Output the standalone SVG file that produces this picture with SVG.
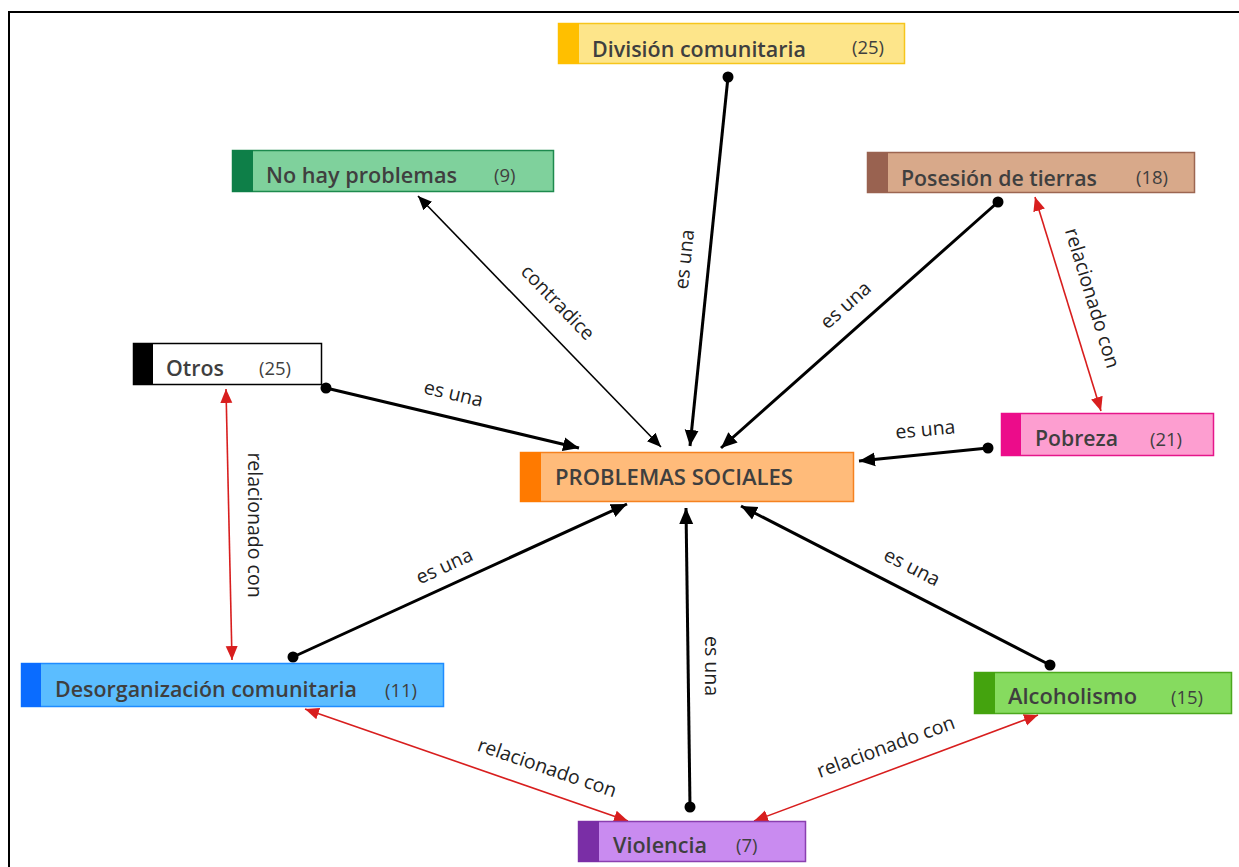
<svg xmlns="http://www.w3.org/2000/svg" width="1239" height="867" viewBox="0 0 1239 867">
<style>
.ttl{font-family:"Open Sans","Noto Sans","Liberation Sans",sans-serif;font-weight:600;font-size:21px;fill:#3f3f3f}
.cnt{font-family:"Open Sans","Noto Sans","Liberation Sans",sans-serif;font-size:18.5px;fill:#3f3f3f}
.lbl{font-family:"Open Sans","Noto Sans","Liberation Sans",sans-serif;font-size:19.5px;fill:#222;text-anchor:middle}
.blk{stroke:#000;stroke-width:3;fill:none;marker-start:url(#dot);marker-end:url(#arB)}
.red{stroke:#d81e1e;stroke-width:1.6;fill:none;marker-start:url(#arR);marker-end:url(#arR)}
.thin{stroke:#000;stroke-width:1.6;fill:none;marker-start:url(#arT);marker-end:url(#arT)}
</style>
<defs>
<marker id="arB" markerUnits="userSpaceOnUse" markerWidth="18" markerHeight="16" refX="16" refY="8" orient="auto"><path d="M0,1 L16,8 L0,15 Z" fill="#000"/></marker>
<marker id="arT" markerUnits="userSpaceOnUse" markerWidth="16" markerHeight="14" refX="14" refY="7" orient="auto-start-reverse"><path d="M0,1 L14,7 L0,13 Z" fill="#000"/></marker>
<marker id="arR" markerUnits="userSpaceOnUse" markerWidth="16" markerHeight="14" refX="14" refY="7" orient="auto-start-reverse"><path d="M0,1 L14,7 L0,13 Z" fill="#d81e1e"/></marker>
<marker id="dot" markerUnits="userSpaceOnUse" markerWidth="12" markerHeight="12" refX="6" refY="6"><circle cx="6" cy="6" r="5.5" fill="#000"/></marker>
</defs>
<rect x="0" y="0" width="1239" height="867" fill="#fff"/>
<rect x="9" y="12" width="1240" height="870" fill="none" stroke="#000" stroke-width="2"/>

<g id="connectors">
<line class="blk" x1="728" y1="77" x2="690" y2="446"/>
<line class="thin" x1="418" y1="196" x2="661" y2="447"/>
<line class="blk" x1="998" y1="202" x2="721" y2="448"/>
<line class="red" x1="1035" y1="197" x2="1101" y2="411"/>
<line class="blk" x1="326" y1="388" x2="579" y2="448"/>
<line class="blk" x1="988" y1="448" x2="859" y2="461"/>
<line class="red" x1="226" y1="389" x2="232" y2="660"/>
<line class="blk" x1="293" y1="657" x2="627" y2="504"/>
<line class="blk" x1="690" y1="807" x2="686" y2="508"/>
<line class="blk" x1="1050" y1="665" x2="741" y2="506"/>
<line class="red" x1="305" y1="709" x2="628" y2="821"/>
<line class="red" x1="1038" y1="715" x2="754" y2="821"/>
<text class="lbl" transform="translate(691,260) rotate(-84)">es una</text>
<text class="lbl" transform="translate(553,307) rotate(46)">contradice</text>
<text class="lbl" transform="translate(850,310) rotate(-41.6)">es una</text>
<text class="lbl" transform="translate(1086,300) rotate(73)">relacionado con</text>
<text class="lbl" transform="translate(452,400) rotate(13.2)">es una</text>
<text class="lbl" transform="translate(926,436) rotate(-5.4)">es una</text>
<text class="lbl" transform="translate(248,525) rotate(90)">relacionado con</text>
<text class="lbl" transform="translate(447,572) rotate(-24.5)">es una</text>
<text class="lbl" transform="translate(705,666) rotate(90)">es una</text>
<text class="lbl" transform="translate(909,573) rotate(27.2)">es una</text>
<text class="lbl" transform="translate(545,774) rotate(18.9)">relacionado con</text>
<text class="lbl" transform="translate(888,753) rotate(-20.2)">relacionado con</text>
</g>

<g id="division">
<rect x="558.5" y="23.5" width="346" height="40" fill="#fde58a" stroke="#f6c51c" stroke-width="1.5"/>
<rect x="558" y="23" width="21" height="41" fill="#ffbf00"/>
<text class="ttl" x="592" y="57" textLength="214" lengthAdjust="spacingAndGlyphs">División comunitaria</text>
<text class="cnt" x="852" y="54">(25)</text>
</g>
<g id="nohay">
<rect x="232.5" y="150.5" width="321" height="41" fill="#7fd19c" stroke="#1d8a4e" stroke-width="1.5"/>
<rect x="232" y="150" width="21" height="42" fill="#0e7f48"/>
<text class="ttl" x="266" y="183" textLength="191" lengthAdjust="spacingAndGlyphs">No hay problemas</text>
<text class="cnt" x="494" y="182">(9)</text>
</g>
<g id="posesion">
<rect x="867.5" y="152.5" width="327" height="40" fill="#d8a98a" stroke="#9c6651" stroke-width="1.5"/>
<rect x="867" y="152" width="21" height="41" fill="#996250"/>
<text class="ttl" x="901" y="186" textLength="196" lengthAdjust="spacingAndGlyphs">Posesión de tierras</text>
<text class="cnt" x="1136" y="184">(18)</text>
</g>
<g id="otros">
<rect x="133.5" y="343.5" width="188" height="41" fill="#fff" stroke="#000" stroke-width="1.5"/>
<rect x="133" y="343" width="20" height="42" fill="#000"/>
<text class="ttl" x="166" y="376" textLength="58" lengthAdjust="spacingAndGlyphs">Otros</text>
<text class="cnt" x="259" y="375">(25)</text>
</g>
<g id="problemas">
<rect x="520.5" y="452.5" width="333" height="49" fill="#ffbb7a" stroke="#f58220" stroke-width="1.5"/>
<rect x="520" y="452" width="21" height="50" fill="#ff7a00"/>
<text class="ttl" x="555" y="485" textLength="238" lengthAdjust="spacingAndGlyphs">PROBLEMAS SOCIALES</text>
</g>
<g id="pobreza">
<rect x="1001.5" y="413.5" width="212" height="42" fill="#fd9ed0" stroke="#e5168a" stroke-width="1.5"/>
<rect x="1001" y="413" width="20" height="43" fill="#ec0c8a"/>
<text class="ttl" x="1035" y="446" textLength="83" lengthAdjust="spacingAndGlyphs">Pobreza</text>
<text class="cnt" x="1150" y="446">(21)</text>
</g>
<g id="desorganizacion">
<rect x="21.5" y="663.5" width="422" height="43" fill="#5bbdff" stroke="#1f8cff" stroke-width="1.5"/>
<rect x="21" y="663" width="20" height="44" fill="#0a6cff"/>
<text class="ttl" x="55" y="697" textLength="302" lengthAdjust="spacingAndGlyphs">Desorganización comunitaria</text>
<text class="cnt" x="385" y="697">(11)</text>
</g>
<g id="alcoholismo">
<rect x="974.5" y="672.5" width="257" height="41" fill="#86db5f" stroke="#4ca81e" stroke-width="1.5"/>
<rect x="974" y="672" width="21" height="42" fill="#44a30e"/>
<text class="ttl" x="1008" y="704" textLength="129" lengthAdjust="spacingAndGlyphs">Alcoholismo</text>
<text class="cnt" x="1171" y="704">(15)</text>
</g>
<g id="violencia">
<rect x="578.5" y="821.5" width="227" height="40" fill="#c98bf0" stroke="#8a3fb0" stroke-width="1.5"/>
<rect x="578" y="821" width="21" height="41" fill="#7a2ea6"/>
<text class="ttl" x="613" y="853" textLength="94" lengthAdjust="spacingAndGlyphs">Violencia</text>
<text class="cnt" x="736" y="852">(7)</text>
</g>
</svg>
